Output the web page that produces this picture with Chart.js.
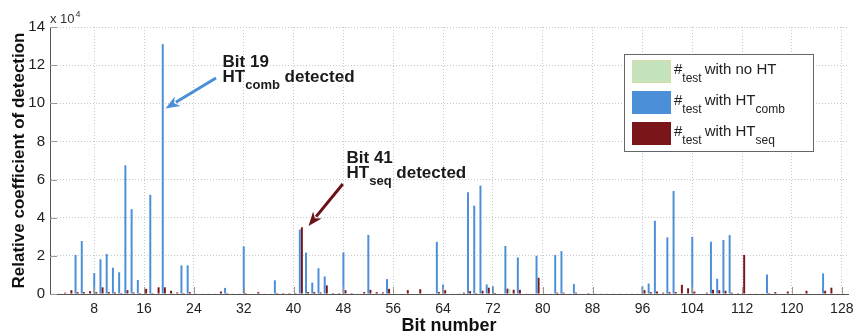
<!DOCTYPE html>
<html>
<head>
<meta charset="utf-8">
<script src="https://cdn.jsdelivr.net/npm/chart.js@4.4.1/dist/chart.umd.min.js"></script>
<style>
    html, body { margin: 0; padding: 0; background: #fff; }
    #wrap { position: relative; width: 855px; height: 334px; }
</style>
</head>
<body>
<div id="wrap"><canvas id="detectChart" width="855" height="334"></canvas></div>
<script>
// bit positions 1..128 (categories)
const bits = Array.from({ length: 128 }, (_, i) => i + 1);
const xTicks = [8, 16, 24, 32, 40, 48, 56, 64, 72, 80, 88, 96, 104, 112, 120, 128];
const yTicks = [0, 2, 4, 6, 8, 10, 12, 14];

// values in units of 10^4
const noHtVals = [
    0, 0, 0.03, 0, 0, 0, 0, 0, 0, 0, 0, 0, 0, 0, 0, 0,
    0, 0, 0, 0, 0.08, 0, 0, 0, 0, 0, 0, 0, 0, 0, 0, 0,
    0, 0, 0, 0, 0, 0.04, 0, 0, 0, 0, 0, 0, 0, 0, 0, 0,
    0, 0, 0, 0, 0, 0, 0, 0, 0, 0, 0, 0, 0, 0, 0, 0,
    0, 0, 0.07, 0, 0, 0, 0, 0, 0, 0, 0.25, 0, 0, 0, 0, 0,
    0, 0, 0, 0, 0, 0, 0, 0, 0, 0, 0, 0, 0, 0, 0, 0,
    0, 0, 0, 0, 0, 0, 0, 0, 0, 0, 0, 0, 0, 0, 0, 0,
    0, 0, 0, 0, 0, 0, 0, 0, 0, 0, 0, 0, 0, 0, 0, 0
];
const combVals = [
    0, 0, 0, 0, 2.05, 2.78, 0, 1.10, 1.82, 2.10, 1.38, 1.14, 6.75, 4.45, 0.73, 0,
    5.20, 0, 13.10, 0, 0, 1.50, 1.50, 0, 0, 0, 0, 0, 0.32, 0, 0, 2.50,
    0, 0, 0, 0, 0.72, 0, 0, 0, 3.38, 2.17, 0.60, 1.35, 0.92, 0, 0, 2.18,
    0, 0, 0, 3.10, 0, 0, 0.78, 0, 0, 0, 0, 0, 0, 0, 2.73, 0.50,
    0, 0, 0, 5.33, 4.63, 5.68, 0.50, 0.40, 0, 2.52, 0, 1.92, 0, 0, 2.00, 0,
    0, 2.05, 2.25, 0, 0.52, 0, 0, 0, 0, 0, 0, 0, 0, 0, 0, 0.40,
    0.55, 3.84, 0, 2.97, 5.40, 0, 0, 3.00, 0, 0, 2.74, 0.80, 2.83, 3.09, 0, 0,
    0, 0, 0, 1.02, 0, 0, 0, 0, 0, 0, 0, 0, 1.08, 0, 0, 0
];
const seqVals = [
    0.03, 0.03, 0.07, 0.20, 0.10, 0.10, 0.15, 0.10, 0.35, 0.10, 0.08, 0.05, 0.20, 0.08, 0.05, 0.27,
    0.05, 0.35, 0.35, 0.17, 0.08, 0.05, 0.10, 0.03, 0.02, 0.02, 0.02, 0.13, 0.05, 0.02, 0.02, 0.05,
    0.03, 0.10, 0.03, 0.03, 0.05, 0.05, 0.05, 0.05, 3.50, 0.10, 0.10, 0.08, 0.45, 0.05, 0.05, 0.20,
    0.05, 0.03, 0.10, 0.22, 0.10, 0.08, 0.27, 0.03, 0.03, 0.20, 0.03, 0.25, 0.03, 0.03, 0.10, 0.20,
    0.03, 0.03, 0.07, 0.15, 0.05, 0.17, 0.33, 0.05, 0.03, 0.28, 0.22, 0.22, 0.03, 0.03, 0.85, 0.03,
    0.03, 0.07, 0.07, 0.03, 0.07, 0.03, 0.05, 0.02, 0.02, 0.02, 0.02, 0.02, 0.02, 0.02, 0.02, 0.20,
    0.10, 0.13, 0.07, 0.10, 0.10, 0.48, 0.30, 0.13, 0.03, 0.07, 0.22, 0.20, 0.17, 0.07, 0.05, 2.05,
    0.02, 0.02, 0.02, 0.05, 0.10, 0.03, 0.13, 0.03, 0.03, 0.17, 0.03, 0.03, 0.17, 0.33, 0.03, 0.03
];

const COLORS = {
    noHt: '#c5e4bd',
    comb: '#4b8fd8',
    seq: '#7a1519',
    axis: '#555555',
    grid: '#c8c8c8'
};
const FONT = "'Liberation Sans', Arial, Helvetica, sans-serif";

// annotations: arrow tail / tip in data units, text anchor in data units
const annotations = [
    { color: COLORS.comb, tail: [27.55, 11.33], tip: [19.45, 9.73], text: [28.6, 11.9], line1: 'Bit 19', sub: 'comb' },
    { color: '#6b1218', tail: [47.9, 5.77], tip: [42.4, 3.57], text: [48.5, 6.87], line1: 'Bit 41', sub: 'seq' }
];

const legendItems = [
    { color: COLORS.noHt, border: '#d6dca6', label: 'with no HT', sub: '' },
    { color: COLORS.comb, border: COLORS.comb, label: 'with HT', sub: 'comb' },
    { color: COLORS.seq, border: COLORS.seq, label: 'with HT', sub: 'seq' }
];

function toPoints(vals) {
    return vals.map(function(v, i) { return { x: bits[i], y: v }; });
}

function drawArrow(ctx, x1, y1, x2, y2, color) {
    const ang = Math.atan2(y2 - y1, x2 - x1);
    const headLen = 14, headW = 5.5;
    const bx = x2 - Math.cos(ang) * headLen;
    const by = y2 - Math.sin(ang) * headLen;
    ctx.save();
    ctx.strokeStyle = color;
    ctx.fillStyle = color;
    ctx.lineWidth = 3;
    ctx.beginPath();
    ctx.moveTo(x1, y1);
    ctx.lineTo(bx + Math.cos(ang) * 2, by + Math.sin(ang) * 2);
    ctx.stroke();
    ctx.beginPath();
    ctx.moveTo(x2, y2);
    ctx.lineTo(bx + Math.sin(ang) * headW, by - Math.cos(ang) * headW);
    ctx.lineTo(bx + Math.cos(ang) * 4, by + Math.sin(ang) * 4);
    ctx.lineTo(bx - Math.sin(ang) * headW, by + Math.cos(ang) * headW);
    ctx.closePath();
    ctx.fill();
    ctx.restore();
}

const overlayPlugin = {
    id: 'overlay',
    afterDraw: function(chart) {
        const ctx = chart.ctx;
        const area = chart.chartArea;
        const xs = chart.scales.x, ys = chart.scales.y;

        ctx.save();
        // inner tick marks (matlab style)
        ctx.strokeStyle = '#a09a8a';
        ctx.lineWidth = 1;
        xTicks.forEach(function(t) {
            const px = Math.round(xs.getPixelForValue(t)) + 0.5;
            ctx.beginPath();
            ctx.moveTo(px, area.bottom);
            ctx.lineTo(px, area.bottom - 7);
            ctx.stroke();
        });
        yTicks.forEach(function(t) {
            const py = Math.round(ys.getPixelForValue(t)) + 0.5;
            ctx.beginPath();
            ctx.moveTo(area.left, py);
            ctx.lineTo(area.left + 7, py);
            ctx.stroke();
        });

        // exponent label
        ctx.fillStyle = '#333';
        ctx.textBaseline = 'alphabetic';
        ctx.textAlign = 'left';
        ctx.font = '13px ' + FONT;
        ctx.fillText('x 10', area.left, area.top - 4);
        const w10 = ctx.measureText('x 10').width;
        ctx.font = '9px ' + FONT;
        ctx.fillText('4', area.left + w10 + 1, area.top - 10);

        // annotations
        annotations.forEach(function(a) {
            drawArrow(ctx,
                xs.getPixelForValue(a.tail[0]), ys.getPixelForValue(a.tail[1]),
                xs.getPixelForValue(a.tip[0]), ys.getPixelForValue(a.tip[1]), a.color);
            const tx = xs.getPixelForValue(a.text[0]);
            const ty = ys.getPixelForValue(a.text[1]);
            ctx.fillStyle = '#1a1a1a';
            ctx.font = 'bold 17px ' + FONT;
            ctx.fillText(a.line1, tx, ty);
            ctx.fillText('HT', tx, ty + 15);
            let cx = tx + ctx.measureText('HT').width;
            ctx.font = 'bold 13px ' + FONT;
            ctx.fillText(a.sub, cx, ty + 22);
            cx += ctx.measureText(a.sub).width;
            ctx.font = 'bold 17px ' + FONT;
            ctx.fillText(' detected', cx, ty + 15);
        });

        // legend
        const lx = area.right - 224, ly = area.top + 27;
        ctx.fillStyle = '#fff';
        ctx.fillRect(lx, ly, 189, 97);
        ctx.strokeStyle = '#666';
        ctx.lineWidth = 1;
        ctx.strokeRect(lx + 0.5, ly + 0.5, 189, 97);
        legendItems.forEach(function(it, i) {
            const sy = ly + 6 + i * 31;
            ctx.fillStyle = it.color;
            ctx.fillRect(lx + 8, sy, 39, 23);
            ctx.strokeStyle = it.border;
            ctx.strokeRect(lx + 8.5, sy + 0.5, 38, 22);
            const base = sy + 14;
            let cx = lx + 50;
            ctx.fillStyle = '#222';
            ctx.font = '15px ' + FONT;
            ctx.fillText('#', cx, base);
            cx += ctx.measureText('#').width;
            ctx.font = '12px ' + FONT;
            ctx.fillText('test', cx, base + 8);
            cx += ctx.measureText('test').width + 3;
            ctx.font = '15px ' + FONT;
            ctx.fillText(it.label, cx, base);
            if (it.sub) {
                cx += ctx.measureText(it.label).width;
                ctx.font = '12px ' + FONT;
                ctx.fillText(it.sub, cx, base + 8);
            }
        });
        ctx.restore();
    }
};

const ctx = document.getElementById('detectChart').getContext('2d');
new Chart(ctx, {
    type: 'bar',
    data: {
        datasets: [
            { label: '#test with no HT', data: toPoints(noHtVals), backgroundColor: COLORS.noHt },
            { label: '#test with HTcomb', data: toPoints(combVals), backgroundColor: COLORS.comb },
            { label: '#test with HTseq', data: toPoints(seqVals), backgroundColor: COLORS.seq }
        ]
    },
    options: {
        responsive: false,
        animation: false,
        layout: { padding: { top: 27, right: 7, left: 0, bottom: 0 } },
        datasets: {
            bar: { categoryPercentage: 1.0, barPercentage: 0.95, borderWidth: 0 }
        },
        plugins: {
            legend: { display: false },
            tooltip: { enabled: false }
        },
        scales: {
            x: {
                type: 'linear',
                min: 0.9,
                max: 129,
                offset: false,
                afterBuildTicks: function(axis) {
                    axis.ticks = xTicks.map(function(v) { return { value: v }; });
                },
                afterFit: function(axis) {
                    axis.height = 40;
                    axis.paddingLeft = 0;
                    axis.paddingRight = 0;
                },
                grid: { color: COLORS.grid, drawTicks: false, offset: false },
                border: { display: true, color: COLORS.axis, width: 1, dash: [1, 2] },
                ticks: {
                    color: '#222',
                    padding: 7,
                    maxRotation: 0,
                    autoSkip: false,
                    font: { family: FONT, size: 14 }
                },
                title: {
                    display: true,
                    text: 'Bit number',
                    color: '#111',
                    padding: { top: 0, bottom: -3 },
                    font: { family: FONT, size: 18, weight: 'bold' }
                }
            },
            y: {
                min: 0,
                max: 14,
                afterBuildTicks: function(axis) {
                    axis.ticks = yTicks.map(function(v) { return { value: v }; });
                },
                afterFit: function(axis) { axis.width = 50; },
                grid: { color: COLORS.grid, drawTicks: false },
                border: { display: true, color: COLORS.axis, width: 1, dash: [1, 2] },
                ticks: {
                    color: '#222',
                    padding: 5,
                    font: { family: FONT, size: 15 }
                },
                title: {
                    display: true,
                    text: 'Relative coefficient of detection',
                    color: '#111',
                    padding: { top: 9, bottom: 0 },
                    font: { family: FONT, size: 17, weight: 'bold' }
                }
            }
        }
    },
    plugins: [overlayPlugin]
});
</script>
</body>
</html>
